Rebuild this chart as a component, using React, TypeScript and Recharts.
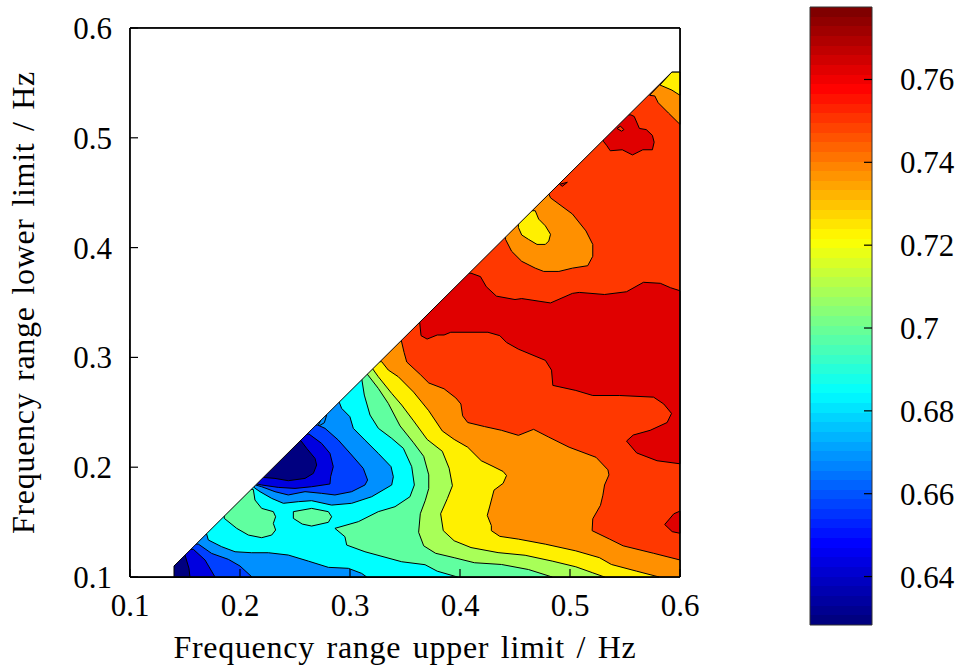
// Filled contour map of a frequency-range score, plus its colour bar.
import React from 'react'
import {
  ScatterChart,
  Scatter,
  BarChart,
  Bar,
  XAxis,
  YAxis,
  Polygon,
  Label,
} from 'recharts'

type Pt = [number, number]

const FONT = '"Liberation Serif", serif'
const TICK_STYLE = { fontSize: 31, fill: '#000', fontFamily: FONT }
const LABEL_STYLE = { fontSize: 32, fill: '#000', fontFamily: FONT, letterSpacing: 0.7, wordSpacing: 3 }
const AXIS_LINE = { stroke: '#000', strokeWidth: 1.5 }
const TICK_LINE = { stroke: '#000', strokeWidth: 1.2 }
const BAR_FRAME = { stroke: '#333', strokeWidth: 1 }

const axisTicks = [0.1, 0.2, 0.3, 0.4, 0.5, 0.6]
const barTicks = [0.64, 0.66, 0.68, 0.7, 0.72, 0.74, 0.76]

const NAVY = '#000080'
const DEEP_BLUE = '#0000e0'
const BLUE = '#0040ff'
const AZURE = '#0090ff'
const CYAN = '#00ffff'
const MINT = '#60ffa0'
const LIME = '#a8ff58'
const YELLOW = '#fff000'
const ORANGE = '#ff9000'
const RED_ORANGE = '#ff3800'
const RED = '#e00000'

// ---- contour lines, in axis units (upper limit, lower limit) ----

const orangeEdge: Pt[] = [
  [0.3464, 0.3164], [0.3492, 0.3044], [0.3516, 0.2958], [0.3639, 0.2844], [0.3716, 0.2767],
  [0.3855, 0.2714], [0.3962, 0.2631], [0.4008, 0.2576], [0.4024, 0.2468], [0.407, 0.2407],
  [0.4223, 0.237], [0.4377, 0.2336], [0.4531, 0.229], [0.4669, 0.2345], [0.4807, 0.2274],
  [0.4992, 0.2182], [0.5237, 0.209], [0.5345, 0.1976], [0.5354, 0.193], [0.5314, 0.1838],
  [0.5299, 0.1745], [0.5277, 0.1653], [0.5207, 0.153], [0.5201, 0.1422], [0.536, 0.1345],
  [0.5483, 0.1284], [0.576, 0.1216], [0.6, 0.1155], [0.6, 0.1],
]
const yellowEdge: Pt[] = [
  [0.3288, 0.2961], [0.3348, 0.2885], [0.3439, 0.2824], [0.3578, 0.2684], [0.3716, 0.2514],
  [0.3839, 0.233], [0.3947, 0.2253], [0.407, 0.2182], [0.4193, 0.2059], [0.43, 0.2007],
  [0.4392, 0.1961], [0.4423, 0.1924], [0.4392, 0.1853], [0.4309, 0.1791], [0.4269, 0.1638],
  [0.4248, 0.1561], [0.4285, 0.1468], [0.4285, 0.1422], [0.4362, 0.137], [0.4531, 0.1345],
  [0.4776, 0.1299], [0.5053, 0.1238], [0.5268, 0.1176], [0.5376, 0.1114], [0.5606, 0.1053],
  [0.581, 0.1],
]
const limeEdge: Pt[] = [
  [0.3203, 0.29], [0.3257, 0.2824], [0.3379, 0.2672], [0.347, 0.2566], [0.3578, 0.2422],
  [0.3701, 0.2253], [0.3839, 0.2145], [0.3901, 0.1991], [0.3931, 0.1831], [0.3885, 0.1714],
  [0.3824, 0.1576], [0.3848, 0.1422], [0.3947, 0.133], [0.41, 0.1268], [0.4346, 0.1222],
  [0.4592, 0.1198], [0.4838, 0.1145], [0.5053, 0.1093], [0.5207, 0.1038], [0.5314, 0.1],
]
const mintEdge: Pt[] = [
  [0.3151, 0.2855], [0.3257, 0.2718], [0.3348, 0.2581], [0.3455, 0.2376], [0.3578, 0.2222],
  [0.367, 0.2099], [0.3716, 0.193], [0.3716, 0.1807], [0.3685, 0.1699], [0.3639, 0.1576],
  [0.3624, 0.1407], [0.367, 0.1284], [0.3778, 0.1216], [0.3947, 0.1176], [0.4131, 0.113],
  [0.4377, 0.1114], [0.4623, 0.1068], [0.4838, 0.1],
]
const cyanEdge: Pt[] = [
  [0.3106, 0.2809], [0.313, 0.2657], [0.3182, 0.2475], [0.3258, 0.2354], [0.3379, 0.2263],
  [0.3485, 0.2172], [0.3561, 0.2005], [0.3585, 0.1838], [0.3545, 0.1731], [0.3409, 0.164],
  [0.3257, 0.1595], [0.3076, 0.1504], [0.2863, 0.1443], [0.2954, 0.1367], [0.297, 0.1291],
  [0.3136, 0.123], [0.347, 0.1139], [0.3682, 0.1112], [0.3793, 0.1053], [0.3977, 0.1],
]
const azureLowEdge: Pt[] = [
  [0.1697, 0.1391], [0.1712, 0.1337], [0.1833, 0.1276], [0.1955, 0.123], [0.2106, 0.1221],
  [0.2258, 0.1221], [0.2439, 0.12], [0.2621, 0.1145], [0.2803, 0.1088], [0.2985, 0.1079],
  [0.3106, 0.1033], [0.3152, 0.1],
]
const blueLowEdge: Pt[] = [
  [0.1621, 0.13], [0.1742, 0.1215], [0.1894, 0.1161], [0.2, 0.11], [0.2109, 0.1],
]
const deepBlueLowEdge: Pt[] = [
  [0.1576, 0.1252], [0.1682, 0.1155], [0.1773, 0.1],
]
const navyLowEdge: Pt[] = [
  [0.15, 0.12], [0.1536, 0.1079], [0.1545, 0.1],
]

// ---- closed regions that touch the diagonal or sit inside the map ----

const azureDip: Pt[] = [
  [0.29, 0.2597], [0.2924, 0.2536], [0.2999, 0.246], [0.303, 0.2354], [0.3136, 0.2247],
  [0.3257, 0.2126], [0.3373, 0.2005], [0.3394, 0.1913], [0.3379, 0.1838], [0.3197, 0.1731],
  [0.3015, 0.1671], [0.2833, 0.1655], [0.2651, 0.1695], [0.253, 0.1686], [0.2394, 0.1671],
  [0.2288, 0.1716], [0.2182, 0.1777], [0.213, 0.1813],
]
const blueDip: Pt[] = [
  [0.2706, 0.2384], [0.2773, 0.2354], [0.2894, 0.2247], [0.3015, 0.2111], [0.3121, 0.1989],
  [0.316, 0.1883], [0.3136, 0.1838], [0.3015, 0.1777], [0.2863, 0.1747], [0.2742, 0.1762],
  [0.2591, 0.1777], [0.2439, 0.1747], [0.2318, 0.1777], [0.2197, 0.1822], [0.2142, 0.1838],
]
const deepBlueDip: Pt[] = [
  [0.2627, 0.2302], [0.2742, 0.2217], [0.2818, 0.2126], [0.2848, 0.2005], [0.2824, 0.1913],
  [0.2818, 0.1847], [0.2651, 0.1822], [0.25, 0.1807], [0.2348, 0.1816], [0.2197, 0.1838],
  [0.2151, 0.1847],
]
const navyDip: Pt[] = [
  [0.2554, 0.2241], [0.2606, 0.2172], [0.2682, 0.208], [0.2697, 0.202], [0.2667, 0.1944],
  [0.2591, 0.1898], [0.2439, 0.1877], [0.2318, 0.1898], [0.2212, 0.1907],
]
const blueSpeck: Pt[] = [
  [0.2742, 0.2445], [0.2788, 0.2475], [0.2767, 0.2405], [0.2706, 0.2369],
]
const mintIsland: Pt[] = [
  [0.2121, 0.1798], [0.2136, 0.1701], [0.2197, 0.1625], [0.2303, 0.1595], [0.2324, 0.1549],
  [0.2303, 0.1488], [0.2324, 0.1428], [0.2288, 0.1382], [0.2197, 0.1358], [0.2076, 0.1382],
  [0.197, 0.1443], [0.1857, 0.1534],
]
const mintSpot: Pt[] = [
  [0.2485, 0.1595], [0.2651, 0.1625], [0.2803, 0.1595], [0.2833, 0.1549], [0.2803, 0.1498],
  [0.2651, 0.1464], [0.2566, 0.1482], [0.2485, 0.1534],
]
const redBand: Pt[] = [
  [0.41, 0.3767], [0.4186, 0.3736], [0.4239, 0.3644], [0.4331, 0.3558], [0.45, 0.3527],
  [0.4561, 0.3536], [0.4823, 0.3496], [0.5022, 0.3583], [0.5084, 0.3592], [0.5314, 0.3573],
  [0.5514, 0.3598], [0.5668, 0.3684], [0.5821, 0.3675], [0.5913, 0.3635], [0.6, 0.3607],
  [0.6, 0.2031], [0.5791, 0.2059], [0.5606, 0.213], [0.5514, 0.2238], [0.5575, 0.2293],
  [0.5729, 0.2336], [0.5883, 0.2407], [0.5923, 0.249], [0.5852, 0.2576], [0.576, 0.2638],
  [0.5452, 0.2653], [0.5207, 0.2653], [0.5053, 0.2699], [0.4844, 0.2745], [0.4832, 0.2884],
  [0.4776, 0.2973], [0.4531, 0.3075], [0.4423, 0.3136], [0.4362, 0.3198], [0.4254, 0.3229],
  [0.3916, 0.3229], [0.3855, 0.3204], [0.3793, 0.3204], [0.3701, 0.3167], [0.3646, 0.3198],
  [0.3633, 0.3321],
]
const redRightBlob: Pt[] = [
  [0.6, 0.16], [0.5944, 0.1576], [0.5861, 0.1478], [0.5929, 0.1413], [0.6, 0.1398],
]
const redTopBlob: Pt[] = [
  [0.5553, 0.5209], [0.5584, 0.5194], [0.5631, 0.5085], [0.5693, 0.5075], [0.5749, 0.5022],
  [0.5765, 0.496], [0.5749, 0.4891], [0.5662, 0.4891], [0.5568, 0.4844], [0.5475, 0.4891],
  [0.5366, 0.4882], [0.5335, 0.4928], [0.5303, 0.4969],
]
const topBlobHole: Pt[] = [
  [0.5428, 0.5085], [0.5459, 0.5106], [0.549, 0.5075], [0.5469, 0.506],
]
const redSpeck: Pt[] = [
  [0.4906, 0.4577], [0.4976, 0.4595], [0.493, 0.4558],
]
const orangeLobe: Pt[] = [
  [0.4807, 0.449], [0.4823, 0.4453], [0.5022, 0.4306], [0.5145, 0.4152], [0.5207, 0.4029],
  [0.5207, 0.3921], [0.5161, 0.3835], [0.5022, 0.3813], [0.4899, 0.3783], [0.4761, 0.3783],
  [0.4684, 0.3813], [0.4561, 0.3875], [0.4469, 0.3967], [0.4414, 0.4075],
]
const yellowLobe: Pt[] = [
  [0.4684, 0.4336], [0.4715, 0.426], [0.4776, 0.4198], [0.4823, 0.4121], [0.4807, 0.406],
  [0.4776, 0.4029], [0.47, 0.4029], [0.4623, 0.4075], [0.4561, 0.4115], [0.4531, 0.4183],
]
const orangeCorner: Pt[] = [
  [0.5724, 0.5387], [0.5771, 0.5381], [0.5802, 0.5319], [0.5896, 0.5225], [0.6, 0.5122],
  [0.6, 0.56], [0.5927, 0.56],
]
const yellowCorner: Pt[] = [
  [0.5818, 0.5481], [0.5927, 0.5434], [0.6, 0.5387], [0.6, 0.56], [0.5927, 0.56],
]
const wholeMap: Pt[] = [[0.1, 0.1], [0.6, 0.1], [0.6, 0.6], [0.1, 0.6]]
const emptyCorner: Pt[] = [
  [0.1, 0.1], [0.14, 0.1], [0.14, 0.11], [0.5927, 0.56], [0.6, 0.56], [0.6, 0.6], [0.1, 0.6],
]

// Colour bar band edges, bottom to top.
const barEdges = [
  0.6283, 0.6306, 0.633, 0.6353, 0.6376, 0.64, 0.6423, 0.6446, 0.647, 0.6493, 0.6516, 0.6539,
  0.6563, 0.6586, 0.6609, 0.6633, 0.6656, 0.6679, 0.6703, 0.6726, 0.6749, 0.6773, 0.6796, 0.6819,
  0.6843, 0.6866, 0.6889, 0.6912, 0.6936, 0.6959, 0.6982, 0.7006, 0.7029, 0.7052, 0.7076, 0.7099,
  0.7122, 0.7146, 0.7169, 0.7192, 0.7216, 0.7239, 0.7262, 0.7285, 0.7309, 0.7332, 0.7355, 0.7379,
  0.7402, 0.7425, 0.7449, 0.7472, 0.7495, 0.7519, 0.7542, 0.7565, 0.7589, 0.7612, 0.7635, 0.7658,
  0.7682, 0.7705, 0.7728, 0.7752, 0.7775,
]
const barDomain = [barEdges[0], barEdges[barEdges.length - 1]]
const mapDomain = [0.1, 0.6]

// Close a region over the lower left corner; the mask hides what lies above the diagonal.
const lowerLeft = (edge: Pt[]): Pt[] => [...edge, [0.1, 0.1], [0.1, edge[0][1]]]
// Close a region that starts and ends on the diagonal through a point above it.
const capped = (edge: Pt[]): Pt[] => [
  ...edge,
  [Math.min(...edge.map((p) => p[0])), Math.max(...edge.map((p) => p[1]))],
]

const regions: { points: Pt[]; fill: string }[] = [
  { points: wholeMap, fill: RED_ORANGE },
  { points: orangeCorner, fill: ORANGE },
  { points: yellowCorner, fill: YELLOW },
  { points: capped(redBand), fill: RED },
  { points: redRightBlob, fill: RED },
  { points: capped(redTopBlob), fill: RED },
  { points: topBlobHole, fill: RED_ORANGE },
  { points: redSpeck, fill: RED },
  { points: capped(orangeLobe), fill: ORANGE },
  { points: capped(yellowLobe), fill: YELLOW },
  { points: lowerLeft(orangeEdge), fill: ORANGE },
  { points: lowerLeft(yellowEdge), fill: YELLOW },
  { points: lowerLeft(limeEdge), fill: LIME },
  { points: lowerLeft(mintEdge), fill: MINT },
  { points: lowerLeft(cyanEdge), fill: CYAN },
  { points: capped(azureDip), fill: AZURE },
  { points: blueSpeck, fill: AZURE },
  { points: capped(blueDip), fill: BLUE },
  { points: capped(deepBlueDip), fill: DEEP_BLUE },
  { points: capped(navyDip), fill: NAVY },
  { points: capped(mintIsland), fill: MINT },
  { points: mintSpot, fill: MINT },
  { points: lowerLeft(azureLowEdge), fill: AZURE },
  { points: lowerLeft(blueLowEdge), fill: BLUE },
  { points: lowerLeft(deepBlueLowEdge), fill: DEEP_BLUE },
  { points: lowerLeft(navyLowEdge), fill: NAVY },
  { points: emptyCorner, fill: '#fff' },
]

// Corners of each axis layer; an undrawn series so the axes work out their ticks.
const mapCorners = [{ x: 0.1, y: 0.1 }, { x: 0.6, y: 0.6 }]
const barCorners = [{ x: 0, y: barDomain[0] }, { x: 1, y: barDomain[1] }]

// jet colour map, 64 steps
const clamp = (v: number) => Math.max(0, Math.min(1, v))
const jet = (t: number) => {
  const hex = (v: number) => Math.round(clamp(v) * 255).toString(16).padStart(2, '0')
  const ramp = (c: number) => 1.5 - Math.abs(4 * t - c)
  return `#${hex(ramp(3))}${hex(ramp(2))}${hex(ramp(1))}`
}

const barRow: Record<string, number | string> = { name: 'bar', base: barEdges[0] }
barEdges.slice(1).forEach((edge, i) => {
  barRow[`band${i}`] = edge - barEdges[i]
})

const layer = (left: number): React.CSSProperties => ({ position: 'absolute', left, top: 0 })

function ContourMap() {
  return (
    <ScatterChart width={760} height={668} margin={{ top: 28, right: 80, bottom: 91, left: 130 }}>
      <XAxis type="number" dataKey="x" domain={mapDomain} hide />
      <YAxis type="number" dataKey="y" domain={mapDomain} hide />
      {regions.map((region, i) => (
        <Scatter
          key={i}
          data={region.points.map(([x, y]) => ({ x, y }))}
          isAnimationActive={false}
          shape={() => <g />}
          line={(props: any) => (
            <Polygon points={props.points} fill={region.fill} stroke="#000" strokeWidth={1} />
          )}
        />
      ))}
    </ScatterChart>
  )
}

// The axes sit in a layer of their own so the inward ticks stay on top of the fills.
function MapAxes() {
  return (
    <ScatterChart width={760} height={668} margin={{ top: 27, right: 79, bottom: 51, left: 70 }}>
      <XAxis
        type="number"
        dataKey="x"
        domain={mapDomain}
        ticks={axisTicks}
        height={40}
        tick={TICK_STYLE}
        tickSize={-8}
        tickMargin={25}
        axisLine={AXIS_LINE}
        tickLine={TICK_LINE}
      >
        <Label value="Frequency range upper limit / Hz" position="center" dy={50} style={LABEL_STYLE} />
      </XAxis>
      <XAxis
        xAxisId="top"
        orientation="top"
        type="number"
        dataKey="x"
        domain={mapDomain}
        ticks={axisTicks}
        height={1}
        tick={false}
        tickSize={-8}
        axisLine={AXIS_LINE}
        tickLine={TICK_LINE}
      />
      <YAxis
        type="number"
        dataKey="y"
        domain={mapDomain}
        ticks={axisTicks}
        width={60}
        tick={TICK_STYLE}
        tickSize={-8}
        tickMargin={26}
        axisLine={AXIS_LINE}
        tickLine={TICK_LINE}
      >
        <Label
          value="Frequency range lower limit / Hz"
          position="center"
          angle={-90}
          dx={-77}
          style={LABEL_STYLE}
        />
      </YAxis>
      <YAxis
        yAxisId="right"
        orientation="right"
        type="number"
        dataKey="y"
        domain={mapDomain}
        ticks={axisTicks}
        width={1}
        tick={false}
        tickSize={-8}
        axisLine={AXIS_LINE}
        tickLine={TICK_LINE}
      />
      <Scatter data={mapCorners} isAnimationActive={false} shape={() => <g />} />
      <Scatter
        data={mapCorners}
        xAxisId="top"
        yAxisId="right"
        isAnimationActive={false}
        shape={() => <g />}
      />
    </ScatterChart>
  )
}

function ColourBar() {
  return (
    <BarChart
      width={200}
      height={668}
      data={[barRow]}
      barCategoryGap={0}
      margin={{ top: 7, right: 88, bottom: 43, left: 50 }}
    >
      <XAxis dataKey="name" hide />
      <YAxis type="number" domain={barDomain} allowDataOverflow hide />
      <Bar dataKey="base" stackId="c" fill="none" isAnimationActive={false} />
      {barEdges.slice(1).map((_, i) => (
        <Bar
          key={i}
          dataKey={`band${i}`}
          stackId="c"
          fill={jet(i / 63)}
          shapeRendering="crispEdges"
          isAnimationActive={false}
        />
      ))}
    </BarChart>
  )
}

function ColourBarAxes() {
  return (
    <ScatterChart width={200} height={668} margin={{ top: 6, right: 8, bottom: 42, left: 40 }}>
      <XAxis
        type="number"
        dataKey="x"
        domain={[0, 1]}
        ticks={[0, 1]}
        height={1}
        tick={false}
        tickLine={false}
        axisLine={BAR_FRAME}
      />
      <XAxis
        xAxisId="top"
        orientation="top"
        type="number"
        dataKey="x"
        domain={[0, 1]}
        ticks={[0, 1]}
        height={1}
        tick={false}
        tickLine={false}
        axisLine={BAR_FRAME}
      />
      <YAxis
        type="number"
        dataKey="y"
        domain={barDomain}
        ticks={barTicks}
        width={10}
        tick={false}
        tickSize={-8}
        axisLine={BAR_FRAME}
        tickLine={TICK_LINE}
      />
      <YAxis
        yAxisId="right"
        orientation="right"
        type="number"
        dataKey="y"
        domain={barDomain}
        ticks={barTicks}
        width={80}
        tick={{ ...TICK_STYLE, textAnchor: 'start' }}
        tickSize={-8}
        tickMargin={36}
        axisLine={BAR_FRAME}
        tickLine={TICK_LINE}
      />
      <Scatter data={barCorners} isAnimationActive={false} shape={() => <g />} />
      <Scatter
        data={barCorners}
        xAxisId="top"
        yAxisId="right"
        isAnimationActive={false}
        shape={() => <g />}
      />
    </ScatterChart>
  )
}

export default function App() {
  return (
    <div style={{ position: 'absolute', left: 0, top: 0, width: 960, height: 668, background: '#fff' }}>
      <div style={layer(0)}>
        <ContourMap />
      </div>
      <div style={layer(0)}>
        <MapAxes />
      </div>
      <div style={layer(760)}>
        <ColourBar />
      </div>
      <div style={layer(760)}>
        <ColourBarAxes />
      </div>
    </div>
  )
}
